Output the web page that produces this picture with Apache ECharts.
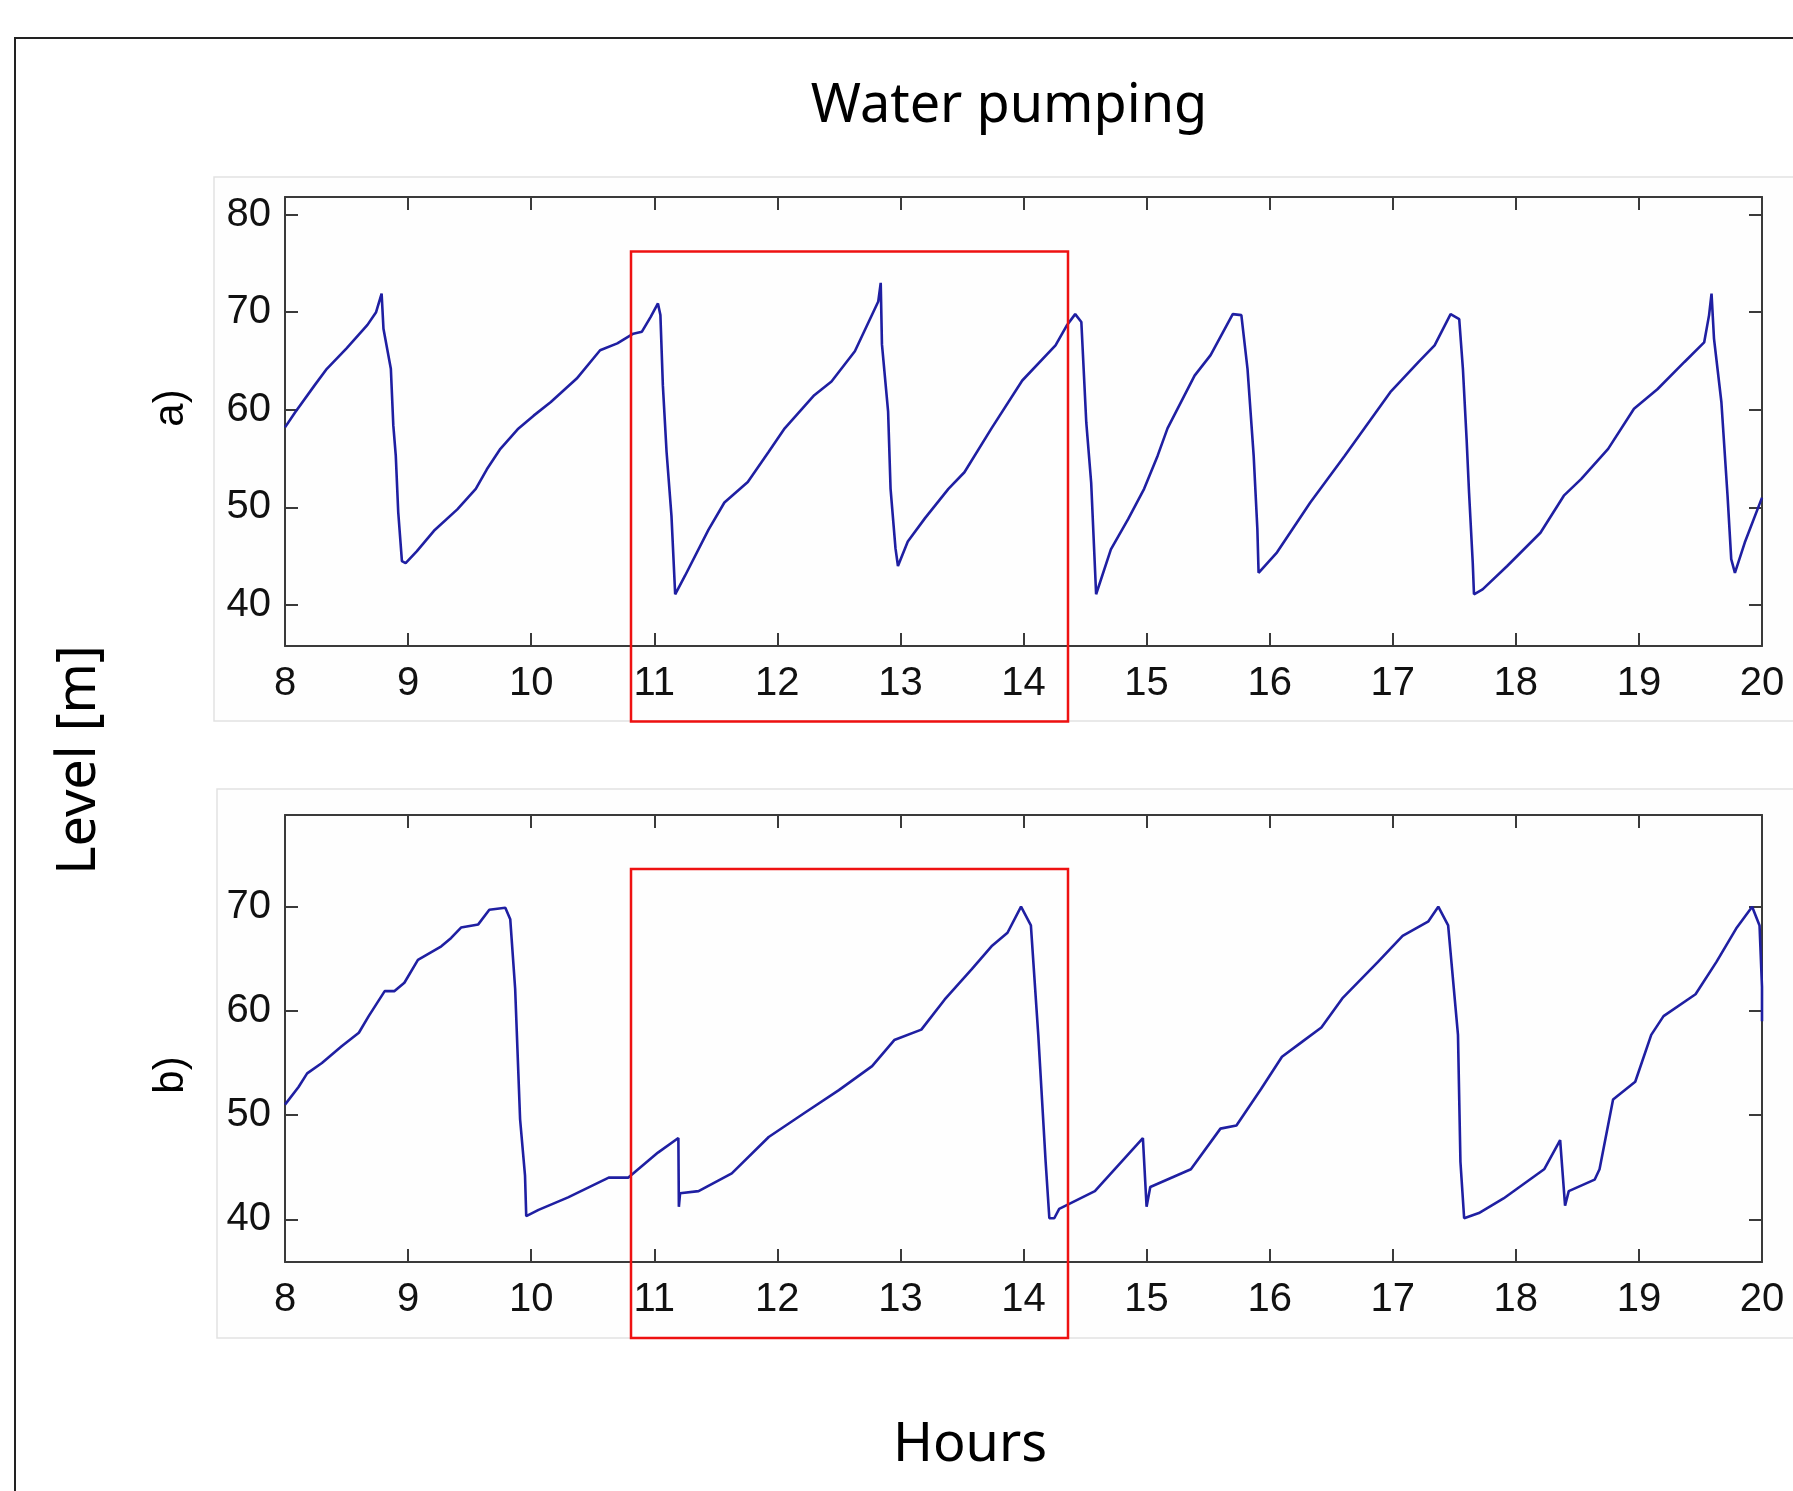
<!DOCTYPE html>
<html>
<head>
<meta charset="utf-8">
<script src="https://cdn.jsdelivr.net/npm/echarts@6/dist/echarts.min.js"></script>
<style>
html,body{margin:0;padding:0;background:#fff;}
#chart{width:1793px;height:1491px;}
</style>
</head>
<body>
<div id="chart"></div>
<script>
// ---- data (hours, level [m]) ----
const hoursA = [8.00,8.08,8.24,8.34,8.50,8.67,8.74,8.785,8.80,8.86,8.88,8.90,8.92,8.95,8.98,9.07,9.21,9.40,9.55,9.64,9.75,9.89,10.02,10.16,10.37,10.56,10.70,10.83,10.90,10.97,11.03,11.05,11.07,11.10,11.14,11.17,11.25,11.44,11.57,11.76,11.93,12.06,12.30,12.44,12.63,12.82,12.84,12.85,12.90,12.92,12.96,12.98,13.06,13.20,13.39,13.52,13.74,13.99,14.26,14.35,14.42,14.47,14.51,14.55,14.59,14.71,14.85,14.98,15.09,15.17,15.39,15.52,15.70,15.77,15.82,15.87,15.90,15.91,16.06,16.33,16.61,16.98,17.21,17.34,17.47,17.54,17.57,17.60,17.62,17.65,17.66,17.73,17.93,18.20,18.39,18.53,18.75,18.96,19.15,19.37,19.53,19.57,19.59,19.61,19.67,19.72,19.75,19.78,19.86,20.00];
const levelA = [58.2,59.7,62.5,64.2,66.3,68.7,70.0,71.9,68.3,64.2,58.4,55.3,49.5,44.5,44.3,45.5,47.6,49.8,51.9,53.9,56.0,58.0,59.4,60.8,63.2,66.1,66.8,67.8,68.0,69.5,70.9,69.7,62.5,55.7,49.1,41.1,43.0,47.7,50.5,52.6,55.7,58.1,61.5,62.9,66.0,71.1,73.0,66.7,59.8,51.9,45.8,44.0,46.5,48.9,51.9,53.6,58.1,63.0,66.6,68.6,69.8,69.0,58.7,52.5,41.1,45.7,48.8,51.9,55.3,58.1,63.5,65.6,69.8,69.7,64.2,55.3,47.8,43.3,45.4,50.5,55.3,61.8,64.9,66.6,69.8,69.3,64.2,57.0,51.5,44.3,41.1,41.6,44.0,47.4,51.2,52.9,56.0,60.1,62.1,64.9,66.9,69.7,71.9,67.3,60.8,51.2,44.7,43.3,46.4,51.0];

const hoursB = [8.00,8.11,8.18,8.30,8.46,8.60,8.68,8.81,8.89,8.97,9.08,9.27,9.35,9.43,9.57,9.66,9.79,9.83,9.87,9.91,9.95,9.96,10.06,10.30,10.63,10.79,11.03,11.196,11.20,11.21,11.36,11.63,11.93,12.22,12.50,12.77,12.95,13.17,13.36,13.58,13.74,13.87,13.98,14.06,14.12,14.18,14.21,14.25,14.29,14.58,14.74,14.97,15.00,15.03,15.36,15.60,15.73,15.93,16.10,16.26,16.42,16.59,16.88,17.08,17.29,17.37,17.45,17.53,17.55,17.58,17.70,17.90,18.23,18.36,18.40,18.43,18.64,18.68,18.79,18.97,19.10,19.20,19.46,19.63,19.79,19.92,19.98,20.00,20.00];
const levelB = [51.0,52.7,54.0,55.0,56.6,57.9,59.5,61.9,61.9,62.7,64.9,66.2,67.0,68.0,68.3,69.7,69.9,68.8,62.1,49.6,44.2,40.3,40.9,42.1,44.0,44.0,46.4,47.8,41.2,42.5,42.7,44.4,47.9,50.2,52.4,54.7,57.2,58.2,61.1,64.0,66.2,67.5,70.0,68.2,57.7,45.5,40.1,40.1,41.0,42.7,44.8,47.8,41.2,43.1,44.8,48.7,49.0,52.5,55.6,57.0,58.4,61.2,64.7,67.2,68.6,70.0,68.2,57.7,45.5,40.1,40.6,42.0,44.8,47.6,41.3,42.7,43.8,44.8,51.5,53.2,57.7,59.5,61.6,64.7,67.9,70.0,68.2,62.3,59.0];

const yTicksA = [40, 50, 60, 70, 80];
const yTicksB = [40, 50, 60, 70];

// ---- styles ----
const lineColor = '#1f1fa2';
const axisColor = '#3a3a3a';
const tickFont = {fontFamily: 'Liberation Sans', fontSize: 40, color: '#111'};

function xAxes(gridIndex) {
  const common = {
    type: 'value', gridIndex: gridIndex, min: 8, max: 20, interval: 1,
    axisLine: {show: true, onZero: false, lineStyle: {color: axisColor, width: 2}},
    axisTick: {show: true, inside: true, length: 13, lineStyle: {color: axisColor, width: 2}},
    splitLine: {show: false}
  };
  return [
    Object.assign({}, common, {position: 'bottom',
      axisLabel: Object.assign({show: true, margin: 18}, tickFont)}),
    Object.assign({}, common, {position: 'top', axisLabel: {show: false}})
  ];
}
function yAxes(gridIndex, mn, mx, ticks) {
  const common = {
    type: 'value', gridIndex: gridIndex, min: mn, max: mx,
    axisLine: {show: true, onZero: false, lineStyle: {color: axisColor, width: 2}},
    axisTick: {show: true, inside: true, length: 13, customValues: ticks, lineStyle: {color: axisColor, width: 2}},
    splitLine: {show: false}
  };
  return [
    Object.assign({}, common, {position: 'left',
      axisLabel: Object.assign({show: true, margin: 14, customValues: ticks}, tickFont)}),
    Object.assign({}, common, {position: 'right', axisLabel: {show: false}})
  ];
}

const chart = echarts.init(document.getElementById('chart'), null, {renderer: 'canvas'});

const option = {
  backgroundColor: '#ffffff',
  animation: false,
  grid: [
    {left: 285, top: 197, width: 1477, height: 449},
    {left: 285, top: 815, width: 1477, height: 447}
  ],
  xAxis: xAxes(0).concat(xAxes(1)),
  yAxis: yAxes(0, 35.8, 81.8, yTicksA).concat(yAxes(1, 35.9, 78.8, yTicksB)),
  series: [
    {type: 'line', name: 'a', xAxisIndex: 0, yAxisIndex: 0, showSymbol: false, clip: true,
     lineStyle: {color: lineColor, width: 2.6}, data: hoursA.map((h, i) => [h, levelA[i]])},
    {type: 'line', name: 'b', xAxisIndex: 2, yAxisIndex: 2, showSymbol: false, clip: true,
     lineStyle: {color: lineColor, width: 2.6}, data: hoursB.map((h, i) => [h, levelB[i]])}
  ],
  graphic: [
    // outer frame
    {type: 'rect', z: 0, silent: true, shape: {x: 15, y: 38, width: 1800, height: 1500},
     style: {fill: 'none', stroke: '#222', lineWidth: 2}},
    // panel backgrounds
    {type: 'rect', z: 0, silent: true, shape: {x: 214, y: 177, width: 1600, height: 544},
     style: {fill: '#fefefe', stroke: '#e2e2e2', lineWidth: 1.5}},
    {type: 'rect', z: 0, silent: true, shape: {x: 217, y: 789, width: 1600, height: 549},
     style: {fill: '#fefefe', stroke: '#e2e2e2', lineWidth: 1.5}},
    // titles
    {type: 'text', z: 10, silent: true, x: 1009, y: 107,
     style: {text: 'Water pumping', fontFamily: 'Noto Sans', fontSize: 54, fill: '#000', align: 'center', verticalAlign: 'middle'}},
    {type: 'text', z: 10, silent: true, x: 970, y: 1446,
     style: {text: 'Hours', fontFamily: 'Noto Sans', fontSize: 54, fill: '#000', align: 'center', verticalAlign: 'middle'}},
    {type: 'text', z: 10, silent: true, x: 80, y: 760, rotation: Math.PI / 2,
     style: {text: 'Level [m]', fontFamily: 'Noto Sans', fontSize: 54, fill: '#000', align: 'center', verticalAlign: 'middle'}},
    {type: 'text', z: 10, silent: true, x: 171, y: 408, rotation: Math.PI / 2,
     style: {text: 'a)', fontFamily: 'Liberation Sans', fontSize: 42, fill: '#000', align: 'center', verticalAlign: 'middle'}},
    {type: 'text', z: 10, silent: true, x: 171, y: 1075, rotation: Math.PI / 2,
     style: {text: 'b)', fontFamily: 'Liberation Sans', fontSize: 42, fill: '#000', align: 'center', verticalAlign: 'middle'}},
    // red highlight boxes
    {type: 'rect', z: 20, silent: true, shape: {x: 631, y: 251.5, width: 437, height: 470},
     style: {fill: 'none', stroke: '#ee1111', lineWidth: 2.5}},
    {type: 'rect', z: 20, silent: true, shape: {x: 631, y: 869, width: 437, height: 469},
     style: {fill: 'none', stroke: '#ee1111', lineWidth: 2.5}}
  ]
};
chart.setOption(option);
</script>
</body>
</html>
